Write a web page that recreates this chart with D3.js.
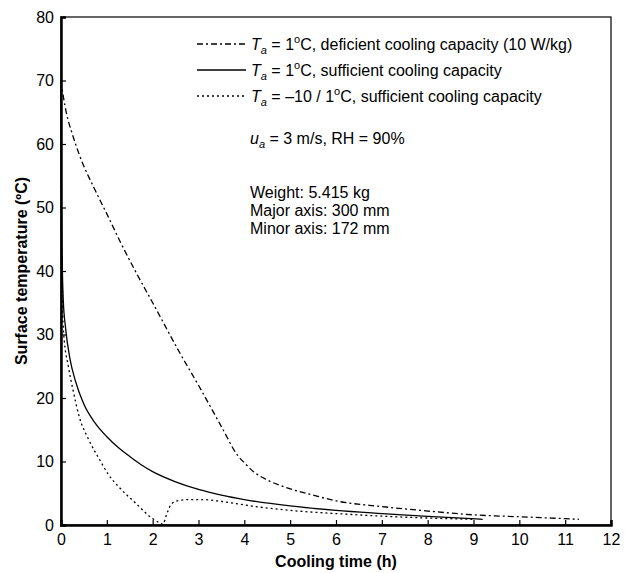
<!DOCTYPE html>
<html>
<head>
<meta charset="utf-8">
<script src="https://cdn.jsdelivr.net/npm/d3@7"></script>
<style>
  body { margin: 0; background: #fff; }
  svg { font-family: "Liberation Sans", Arial, sans-serif; }
</style>
</head>
<body>
<svg id="chart" width="633" height="573"></svg>
<script>
// Cooling curves: surface temperature vs cooling time
const deficientTime = [0, 0.05, 0.12, 0.25, 0.4, 0.74, 1, 1.3, 1.65, 2, 2.6, 3, 3.5, 3.85, 4, 4.2, 4.5, 5, 5.5, 6, 7, 8, 9, 10, 11, 11.3]
const deficientTemp = [70, 67.5, 64.8, 61.5, 58.3, 52.8, 49, 44.5, 39.6, 35, 27, 22, 15.5, 11, 9.8, 8.4, 7.1, 5.7, 4.7, 3.8, 2.9, 2.2, 1.6, 1.3, 1.0, 0.9]

const sufficientTime = [0, 0.01, 0.03, 0.05, 0.1, 0.2, 0.31, 0.5, 0.75, 1, 1.25, 1.5, 1.75, 2, 2.5, 3, 3.5, 4, 5, 6, 7, 8, 9.2]
const sufficientTemp = [70, 50, 40, 35.4, 31, 26, 22.8, 19, 16, 13.9, 12.2, 10.8, 9.5, 8.4, 6.8, 5.6, 4.7, 4.0, 3.0, 2.3, 1.8, 1.35, 0.9]

const mixedTime = [0, 0.01, 0.03, 0.06, 0.16, 0.27, 0.4, 0.6, 0.85, 1.03, 1.3, 1.62, 1.98, 2.16, 2.22, 2.31, 2.42, 2.6, 2.78, 3.1, 3.51, 4.24, 5, 6, 7, 8, 9]
const mixedTemp = [70, 45, 35, 30, 25, 21, 17, 13.5, 10.2, 8, 5.7, 3.5, 1.1, 0.3, 0.1, 1.8, 3.4, 3.9, 4.0, 4.0, 3.7, 2.9, 2.3, 1.8, 1.4, 1.1, 0.9]

const xTicks = d3.range(0, 13)
const yTicks = d3.range(0, 90, 10)

const margin = { top: 17, right: 22, bottom: 48, left: 61 }
const width = 633
const height = 573

const svg = d3.select('#chart')

const x = d3.scaleLinear().domain([0, 12]).range([margin.left, width - margin.right])
const y = d3.scaleLinear().domain([0, 80]).range([height - margin.bottom, margin.top])

// frame
svg.append('rect')
  .attr('x', x(0))
  .attr('y', y(80))
  .attr('width', x(12) - x(0))
  .attr('height', y(0) - y(80))
  .attr('fill', 'none')
  .attr('stroke', '#000')
  .attr('stroke-width', 1.2)

// axes with inward ticks
const xAxis = svg.append('g')
  .attr('transform', `translate(0,${y(0)})`)
  .call(d3.axisBottom(x).tickValues(xTicks).tickSize(-5).tickPadding(9).tickFormat(d3.format('d')))
const yAxis = svg.append('g')
  .attr('transform', `translate(${x(0)},0)`)
  .call(d3.axisLeft(y).tickValues(yTicks).tickSize(-5).tickPadding(7).tickFormat(d3.format('d')))

for (const ax of [xAxis, yAxis]) {
  ax.select('.domain').attr('stroke-width', 2.5)
  ax.selectAll('.tick line').attr('stroke-width', 1.2)
  ax.selectAll('.tick text')
    .attr('font-size', 16)
    .attr('font-family', '"Liberation Sans", Arial, sans-serif')
    .attr('fill', '#000')
}

// axis titles
svg.append('text')
  .attr('x', (x(0) + x(12)) / 2)
  .attr('y', 567)
  .attr('text-anchor', 'middle')
  .attr('font-size', 16)
  .attr('font-weight', 'bold')
  .text('Cooling time (h)')

svg.append('text')
  .attr('transform', `translate(27,${(y(0) + y(80)) / 2}) rotate(-90)`)
  .attr('text-anchor', 'middle')
  .attr('font-size', 16)
  .attr('font-weight', 'bold')
  .text('Surface temperature (ºC)')

const series = [
  { time: deficientTime, temp: deficientTemp, dash: '6,3,2,3' },
  { time: sufficientTime, temp: sufficientTemp, dash: null },
  { time: mixedTime, temp: mixedTemp, dash: '2,3' }
]

const line = d3.line()
  .x((d) => x(d[0]))
  .y((d) => y(d[1]))
  .curve(d3.curveMonotoneX)

series.forEach((s) => {
  svg.append('path')
    .datum(d3.zip(s.time, s.temp))
    .attr('d', line)
    .attr('fill', 'none')
    .attr('stroke', '#000')
    .attr('stroke-width', 1.3)
    .attr('stroke-dasharray', s.dash)
})

// legend
const legendRows = [
  { temp: '1', rest: 'C, deficient cooling capacity (10 W/kg)', dash: '6,3,2,3' },
  { temp: '1', rest: 'C, sufficient cooling capacity', dash: null },
  { temp: '–10 / 1', rest: 'C, sufficient cooling capacity', dash: '2,3' }
]

legendRows.forEach((r, i) => {
  const ly = 44 + i * 26
  svg.append('line')
    .attr('x1', 197).attr('x2', 246)
    .attr('y1', ly).attr('y2', ly)
    .attr('stroke', '#000')
    .attr('stroke-width', 1.5)
    .attr('stroke-dasharray', r.dash)
  const t = svg.append('text')
    .attr('x', 251)
    .attr('y', ly + 6)
    .attr('font-size', 16)
  t.append('tspan').attr('font-style', 'italic').text('T')
  t.append('tspan').attr('font-style', 'italic').attr('font-size', 11).attr('dy', 4).text('a')
  t.append('tspan').attr('dy', -4).text(` = ${r.temp}`)
  t.append('tspan').attr('font-size', 11).attr('dy', -7).text('o')
  t.append('tspan').attr('dy', 7).text(r.rest)
})

// conditions
const cond = svg.append('text').attr('x', 250).attr('y', 144).attr('font-size', 16)
cond.append('tspan').attr('font-style', 'italic').text('u')
cond.append('tspan').attr('font-style', 'italic').attr('font-size', 11).attr('dy', 4).text('a')
cond.append('tspan').attr('dy', -4).text(' = 3 m/s, RH = 90%')

const specs = ['Weight: 5.415 kg', 'Major axis: 300 mm', 'Minor axis: 172 mm']
specs.forEach((s, i) => {
  svg.append('text')
    .attr('x', 250)
    .attr('y', 198 + i * 18)
    .attr('font-size', 16)
    .text(s)
})
</script>
</body>
</html>
